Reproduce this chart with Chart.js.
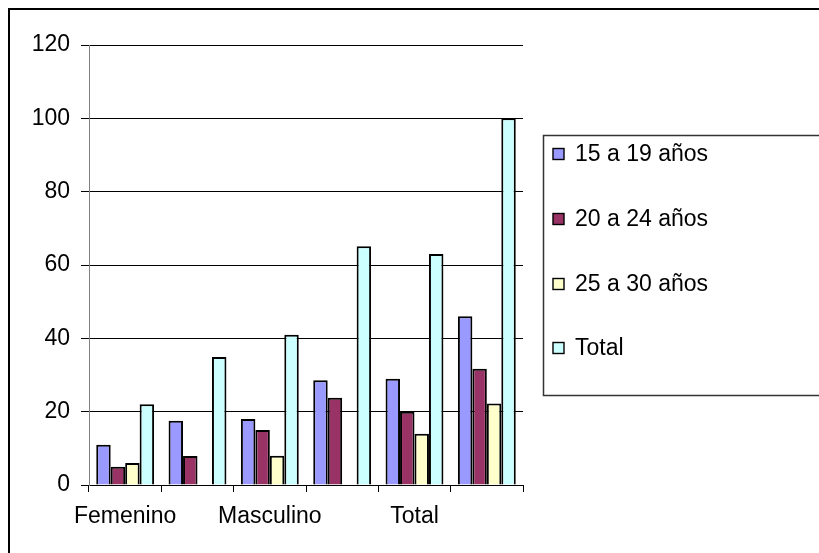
<!DOCTYPE html>
<html>
<head>
<meta charset="utf-8">
<script src="https://cdn.jsdelivr.net/npm/chart.js@4.4.1/dist/chart.umd.min.js"></script>
<style>
  html, body { margin: 0; padding: 0; background: #ffffff; overflow: hidden; }
  #wrap { position: absolute; left: 0; top: 0; width: 819px; height: 553px; }
</style>
</head>
<body>
<div id="wrap"><canvas id="c" width="819" height="553"></canvas></div>
<script>
// ---- Data ----
const categories = ["Femenino", "", "Masculino", "", "Total", ""];
const seriesNames = ["15 a 19 años", "20 a 24 años", "25 a 30 años", "Total"];
const edad15a19 = [11, 17.5, 18, 28.6, 29, 46.0];
const edad20a24 = [5, 7.9, 15, 23.8, 20, 31.7];
const edad25a30 = [6, null, 8, null, 14, 22.2];
const totalSerie = [22, 34.9, 41, 65.1, 63, 100];
const yTicks = [0, 20, 40, 60, 80, 100, 120];

const colors = ["#9999FF", "#993366", "#FFFFCC", "#CCFFFF"];
const FONT = "'Liberation Sans', Arial, sans-serif";

const frameAndLegend = {
  id: 'frameAndLegend',
  afterDraw(chart) {
    const ctx = chart.ctx;
    ctx.save();
    // outer chart frame (extends past the right/bottom edges)
    ctx.strokeStyle = '#000000';
    ctx.lineWidth = 2;
    ctx.strokeRect(9, 9, 900, 900);
    // legend box
    ctx.strokeStyle = '#333333';
    ctx.lineWidth = 1.5;
    ctx.strokeRect(543.5, 135.5, 400, 260);
    const ys = [154, 219, 284, 348];
    ctx.font = "23px " + FONT;
    ctx.textBaseline = 'middle';
    ctx.textAlign = 'left';
    chart.data.datasets.forEach((ds, i) => {
      const y = ys[i];
      ctx.fillStyle = ds.backgroundColor;
      ctx.fillRect(553, y - 5.5, 11, 11);
      ctx.strokeStyle = '#000000';
      ctx.lineWidth = 1.4;
      ctx.strokeRect(553, y - 5.5, 11, 11);
      ctx.fillStyle = '#000000';
      ctx.fillText(ds.label, 575, y + 1);
    });
    ctx.restore();
  }
};

new Chart(document.getElementById('c'), {
  type: 'bar',
  data: {
    labels: categories,
    datasets: [
      { label: seriesNames[0], data: edad15a19, backgroundColor: colors[0] },
      { label: seriesNames[1], data: edad20a24, backgroundColor: colors[1] },
      { label: seriesNames[2], data: edad25a30, backgroundColor: colors[2] },
      { label: seriesNames[3], data: totalSerie, backgroundColor: colors[3] }
    ].map(d => Object.assign(d, {
      borderColor: '#000000',
      borderWidth: 2,
      categoryPercentage: 0.8,
      barPercentage: 1.0
    }))
  },
  options: {
    responsive: false,
    animation: false,
    devicePixelRatio: 1,
    layout: { padding: { left: 0, right: 296, top: 45, bottom: 0 } },
    plugins: {
      legend: { display: false },
      tooltip: { enabled: false },
      title: { display: false }
    },
    scales: {
      x: {
        offset: true,
        grid: {
          offset: true,
          drawOnChartArea: false,
          drawTicks: true,
          tickLength: 7,
          color: '#000000',
          lineWidth: 1
        },
        border: { display: true, color: '#000000', width: 1 },
        ticks: {
          autoSkip: false,
          maxRotation: 0,
          minRotation: 0,
          padding: 11,
          color: '#000000',
          font: { family: FONT, size: 23 }
        },
        afterFit(scale) { scale.height = 68; }
      },
      y: {
        min: 0,
        max: 120,
        afterBuildTicks(scale) { scale.ticks = yTicks.map(v => ({ value: v })); },
        grid: {
          color: '#000000',
          lineWidth: 1,
          drawTicks: true,
          tickLength: 8
        },
        border: { display: true, color: '#808080', width: 1 },
        ticks: {
          padding: 11,
          color: '#000000',
          font: { family: FONT, size: 23 }
        },
        afterFit(scale) { scale.width = 89; }
      }
    }
  },
  plugins: [frameAndLegend]
});
</script>
</body>
</html>
